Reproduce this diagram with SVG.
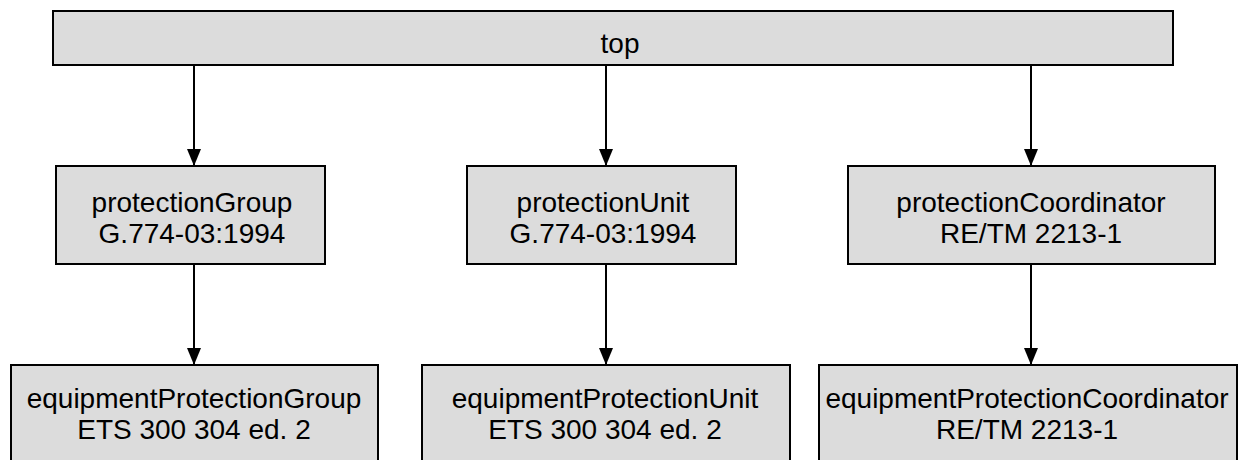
<svg xmlns="http://www.w3.org/2000/svg" width="1247" height="460" viewBox="0 0 1247 460">
  <style>
    .box { fill: #dcdcdc; stroke: #000; stroke-width: 2; }
    .lbl { font-family: "Liberation Sans", Arial, sans-serif; font-size: 28px; fill: #000; text-anchor: middle; }
    .edge { stroke: #000; stroke-width: 2; fill: none; marker-end: url(#arr); }
  </style>
  <defs>
    <marker id="arr" markerUnits="userSpaceOnUse" markerWidth="17" markerHeight="14" refX="17" refY="7" orient="auto" viewBox="0 0 17 14">
      <path d="M0,0 L17,7 L0,14 Z" fill="#000"/>
    </marker>
  </defs>
  <g id="connectors">
    <line class="edge" x1="194" y1="66" x2="194" y2="166"/>
    <line class="edge" x1="606" y1="66" x2="606" y2="166"/>
    <line class="edge" x1="1031" y1="66" x2="1031" y2="166"/>
    <line class="edge" x1="194" y1="265" x2="194" y2="365"/>
    <line class="edge" x1="606" y1="265" x2="606" y2="365"/>
    <line class="edge" x1="1031" y1="265" x2="1031" y2="365"/>
  </g>
  <g id="top">
    <rect class="box" x="53" y="11" width="1120" height="54"/>
    <text class="lbl" x="620" y="53">top</text>
  </g>
  <g id="protectionGroup">
    <rect class="box" x="56" y="166" width="269" height="98"/>
    <text class="lbl" x="192" y="212">protectionGroup</text>
    <text class="lbl" x="192" y="243">G.774-03:1994</text>
  </g>
  <g id="protectionUnit">
    <rect class="box" x="467" y="166" width="269" height="98"/>
    <text class="lbl" x="603" y="212">protectionUnit</text>
    <text class="lbl" x="603" y="243">G.774-03:1994</text>
  </g>
  <g id="protectionCoordinator">
    <rect class="box" x="848" y="166" width="367" height="98"/>
    <text class="lbl" x="1031" y="212">protectionCoordinator</text>
    <text class="lbl" x="1031" y="243">RE/TM 2213-1</text>
  </g>
  <g id="equipmentProtectionGroup">
    <rect class="box" x="11" y="365" width="367" height="110"/>
    <text class="lbl" x="194" y="408">equipmentProtectionGroup</text>
    <text class="lbl" x="194" y="439">ETS 300 304 ed. 2</text>
  </g>
  <g id="equipmentProtectionUnit">
    <rect class="box" x="422" y="365" width="368" height="110"/>
    <text class="lbl" x="605" y="408">equipmentProtectionUnit</text>
    <text class="lbl" x="605" y="439">ETS 300 304 ed. 2</text>
  </g>
  <g id="equipmentProtectionCoordinator">
    <rect class="box" x="819" y="365" width="418" height="110"/>
    <text class="lbl" x="1027" y="408">equipmentProtectionCoordinator</text>
    <text class="lbl" x="1027" y="439">RE/TM 2213-1</text>
  </g>
</svg>
